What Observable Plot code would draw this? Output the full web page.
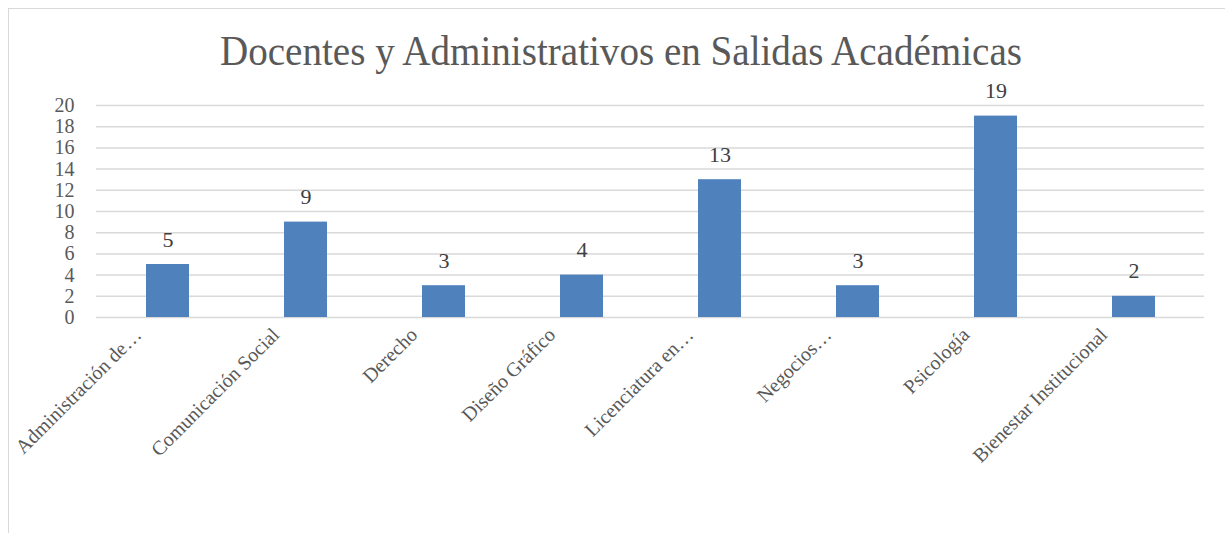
<!DOCTYPE html>
<html>
<head>
<meta charset="utf-8">
<script src="https://cdn.jsdelivr.net/npm/d3@7"></script>
<script src="https://cdn.jsdelivr.net/npm/@observablehq/plot@0.6"></script>
<style>
  html, body { margin: 0; padding: 0; background: #fff; overflow: hidden; }
  #wrap { position: relative; width: 1225px; height: 533px; }
  #frame { position: absolute; left: 8px; top: 8px; width: 1400px; height: 800px; border: 1px solid #d9d9d9; box-sizing: border-box; }
  #title { position: absolute; left: 220px; top: 30px; font-family: "Liberation Serif", serif; font-size: 42px; line-height: 1; color: #595959; white-space: nowrap; transform-origin: 0 0; }
  #chart { position: absolute; left: 0; top: 0; }
</style>
</head>
<body>
<div id="wrap">
  <div id="frame"></div>
  <div id="chart"></div>
  <div id="title">Docentes y Administrativos en Salidas Académicas</div>
</div>
<script>
const categories = ["Administración de…", "Comunicación Social", "Derecho", "Diseño Gráfico", "Licenciatura en…", "Negocios…", "Psicología", "Bienestar Institucional"];
const values = [5, 9, 3, 4, 13, 3, 19, 2];
const yTicks = [0, 2, 4, 6, 8, 10, 12, 14, 16, 18, 20];

const data = categories.map((c, i) => ({category: c, value: values[i]}));

const chart = Plot.plot({
  width: 1225,
  height: 533,
  marginLeft: 96,
  marginRight: 21,
  marginTop: 105,
  marginBottom: 216,
  style: {fontFamily: "'Liberation Serif', serif", fontSize: "20px", color: "#595959", background: "transparent"},
  x: {domain: categories, paddingInner: 0.69, paddingOuter: 0.345, label: null},
  y: {domain: [0, 20], ticks: yTicks, label: null},
  marks: [
    Plot.gridY(yTicks, {stroke: "#d9d9d9", strokeOpacity: 1, strokeWidth: 1.5}),
    Plot.barY(data, {x: "category", y: "value", fill: "#4f81bd", inset: 0}),
    Plot.axisY(yTicks, {tickSize: 0, tickPadding: 22, fontSize: 20, fill: "#595959"}),
    Plot.axisX({tickSize: 0, tickRotate: -45, tickPadding: 8, dx: -30, dy: 6, fontSize: 20, fill: "#595959", textAnchor: "end"}),
    Plot.text(data, {x: "category", y: "value", text: d => String(d.value), dy: -25, fontSize: 22, fill: "#404040"})
  ]
});
document.getElementById("chart").appendChild(chart);

const t = document.getElementById("title");
const w = t.getBoundingClientRect().width;
t.style.transform = `scaleX(${802 / w})`;
</script>
</body>
</html>
